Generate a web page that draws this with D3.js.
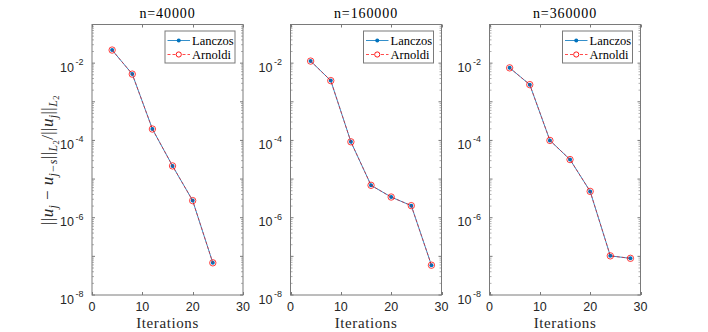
<!DOCTYPE html>
<html><head><meta charset="utf-8">
<script src="https://cdn.jsdelivr.net/npm/d3@7"></script>
<style>body{margin:0;background:#fff}</style>
</head><body>
<svg id="c" width="708" height="332"></svg>
<script>
const iterations40k = [4, 8, 12, 16, 20, 24];
const lanczos40k = [2.18e-2, 5.2e-3, 1.97e-4, 2.19e-5, 2.77e-6, 6.8e-8];
const arnoldi40k = [2.18e-2, 5.2e-3, 1.97e-4, 2.19e-5, 2.77e-6, 6.8e-8];
const iterations160k = [4, 8, 12, 16, 20, 24, 28];
const lanczos160k = [1.13e-2, 3.53e-3, 9.2e-5, 6.9e-6, 3.43e-6, 2.05e-6, 5.9e-8];
const arnoldi160k = [1.13e-2, 3.53e-3, 9.2e-5, 6.9e-6, 3.43e-6, 2.05e-6, 5.9e-8];
const iterations360k = [4, 8, 12, 16, 20, 24, 28];
const lanczos360k = [7.55e-3, 2.78e-3, 1.0e-4, 3.2e-5, 4.8e-6, 1.03e-7, 8.9e-8];
const arnoldi360k = [7.55e-3, 2.78e-3, 1.0e-4, 3.2e-5, 4.8e-6, 1.03e-7, 8.9e-8];
const titles = ["n=40000", "n=160000", "n=360000"];
const seriesNames = ["Lanczos", "Arnoldi"];
const xTicks = [0, 10, 20, 30];
const yTickExponents = [-8, -6, -4, -2];

const panels = [
  {x: iterations40k, l: lanczos40k, a: arnoldi40k},
  {x: iterations160k, l: lanczos160k, a: arnoldi160k},
  {x: iterations360k, l: lanczos360k, a: arnoldi360k}
];
const lefts = [92, 290.5, 489.5];
const W = 151, topY = 24.5, bottomY = 295;
const blue = "#0072BD", red = "#FF0000", axisCol = "#7a7a7a";
const serif = "Liberation Serif, Times New Roman, serif";
const sans = "Liberation Sans, Arial, sans-serif";
const svg = d3.select("#c");

panels.forEach((p, i) => {
  const x = d3.scaleLinear().domain([0, 30]).range([lefts[i], lefts[i] + W]);
  const y = d3.scaleLog().domain([1e-8, 1e-1]).range([bottomY, topY]);
  const g = svg.append("g");
  g.append("rect").attr("x", lefts[i]).attr("y", topY).attr("width", W).attr("height", bottomY - topY)
    .attr("fill", "none").attr("stroke", axisCol).attr("stroke-width", 1);
  xTicks.forEach(t => {
    const xx = Math.round(x(t)) + 0.5;
    g.append("line").attr("x1", xx).attr("x2", xx).attr("y1", bottomY).attr("y2", bottomY - 3).attr("stroke", axisCol);
    g.append("line").attr("x1", xx).attr("x2", xx).attr("y1", topY).attr("y2", topY + 3).attr("stroke", axisCol);
    g.append("text").attr("x", x(t)).attr("y", 310.5).attr("text-anchor", "middle")
      .attr("font-family", sans).attr("font-size", 12.5).attr("fill", "#262626").text(t);
  });
  for (let e = -8; e < -1; e++) {
    for (let m = 1; m <= 9; m++) {
      const v = m * Math.pow(10, e);
      const yy = y(v);
      const len = m === 1 ? 3 : 2;
      g.append("line").attr("x1", lefts[i]).attr("x2", lefts[i] + len).attr("y1", yy).attr("y2", yy).attr("stroke", axisCol).attr("stroke-width", m === 1 ? 1 : 0.6);
      g.append("line").attr("x1", lefts[i] + W).attr("x2", lefts[i] + W - len).attr("y1", yy).attr("y2", yy).attr("stroke", axisCol).attr("stroke-width", m === 1 ? 1 : 0.6);
    }
  }
  yTickExponents.forEach(e => {
    const yy = y(Math.pow(10, e));
    const t = g.append("text").attr("x", lefts[i] - 8.5).attr("y", yy + 8.5).attr("text-anchor", "end")
      .attr("font-family", sans).attr("font-size", 12.5).attr("fill", "#262626");
    t.append("tspan").text("10");
    t.append("tspan").attr("dx", 1.5).attr("dy", -6.5).attr("font-size", 9).text(String(e));
  });
  const line = d3.line().x(d => x(d[0])).y(d => y(d[1]));
  const lData = p.x.map((v, k) => [v, p.l[k]]);
  const aData = p.x.map((v, k) => [v, p.a[k]]);
  g.append("path").attr("d", line(lData)).attr("fill", "none").attr("stroke", blue).attr("stroke-width", 0.8);
  g.selectAll(null).data(lData).enter().append("circle").attr("cx", d => x(d[0])).attr("cy", d => y(d[1])).attr("r", 2).attr("fill", blue);
  g.append("path").attr("d", line(aData)).attr("fill", "none").attr("stroke", red).attr("stroke-width", 0.7).attr("stroke-dasharray", "3,2").attr("opacity", 0.85);
  g.selectAll(null).data(aData).enter().append("circle").attr("cx", d => x(d[0])).attr("cy", d => y(d[1])).attr("r", 3.2)
    .attr("fill", "none").attr("stroke", red).attr("stroke-width", 1).attr("opacity", 0.75);
  g.append("text").attr("x", lefts[i] + W / 2).attr("y", 17.5).attr("text-anchor", "middle")
    .attr("font-family", serif).attr("font-size", 14).attr("letter-spacing", 0.9).attr("fill", "#000").text(titles[i]);
  g.append("text").attr("x", lefts[i] + W / 2).attr("y", 327.5).attr("text-anchor", "middle")
    .attr("font-family", serif).attr("font-size", 15).attr("letter-spacing", 0.6).attr("fill", "#262626").text("Iterations");
  const lw = 70, lh = 32, lx = lefts[i] + W - 8 - lw, ly = topY + 6.5;
  const lg = g.append("g");
  lg.append("rect").attr("x", lx).attr("y", ly).attr("width", lw).attr("height", lh).attr("fill", "#fff").attr("stroke", axisCol).attr("stroke-width", 1);
  seriesNames.forEach((name, k) => {
    const yy = ly + 9.5 + k * 14;
    const x1 = lx + 2.5, x2 = lx + 25;
    const col = k === 0 ? blue : red;
    lg.append("line").attr("x1", x1).attr("x2", x2).attr("y1", yy).attr("y2", yy).attr("stroke", col)
      .attr("stroke-width", k === 0 ? 0.8 : 0.7).attr("stroke-dasharray", k === 0 ? null : "3,2");
    if (k === 0) lg.append("circle").attr("cx", (x1 + x2) / 2).attr("cy", yy).attr("r", 2).attr("fill", blue);
    else lg.append("circle").attr("cx", (x1 + x2) / 2).attr("cy", yy).attr("r", 2.6).attr("fill", "#fff").attr("stroke", red).attr("stroke-width", 0.9);
    lg.append("text").attr("x", lx + 27).attr("y", yy + 4).attr("font-family", serif)
      .attr("font-size", 12.5).attr("fill", "#000").text(name);
  });
});

const yl = svg.append("text").attr("transform", "translate(53,160) rotate(-90)").attr("text-anchor", "middle")
  .attr("font-family", serif).attr("font-size", 17).attr("letter-spacing", 0.4).attr("fill", "#262626");
yl.append("tspan").text("||");
yl.append("tspan").attr("font-style", "italic").text("u");
yl.append("tspan").attr("font-style", "italic").attr("font-size", 12).attr("dy", 3.5).text("j");
yl.append("tspan").attr("dy", -3.5).text(" − ");
yl.append("tspan").attr("font-style", "italic").text("u");
yl.append("tspan").attr("font-style", "italic").attr("font-size", 12).attr("dy", 3.5).text("j−s");
yl.append("tspan").attr("dy", -3.5).text("||");
yl.append("tspan").attr("font-style", "italic").attr("font-size", 12).attr("dy", 3.5).text("L");
yl.append("tspan").attr("font-size", 8.5).attr("dy", 2).text("2");
yl.append("tspan").attr("dy", -5.5).text("/||");
yl.append("tspan").attr("font-style", "italic").text("u");
yl.append("tspan").attr("font-style", "italic").attr("font-size", 12).attr("dy", 3.5).text("j");
yl.append("tspan").attr("dy", -3.5).text("||");
yl.append("tspan").attr("font-style", "italic").attr("font-size", 12).attr("dy", 3.5).text("L");
yl.append("tspan").attr("font-size", 8.5).attr("dy", 2).text("2");
</script>
</body></html>
